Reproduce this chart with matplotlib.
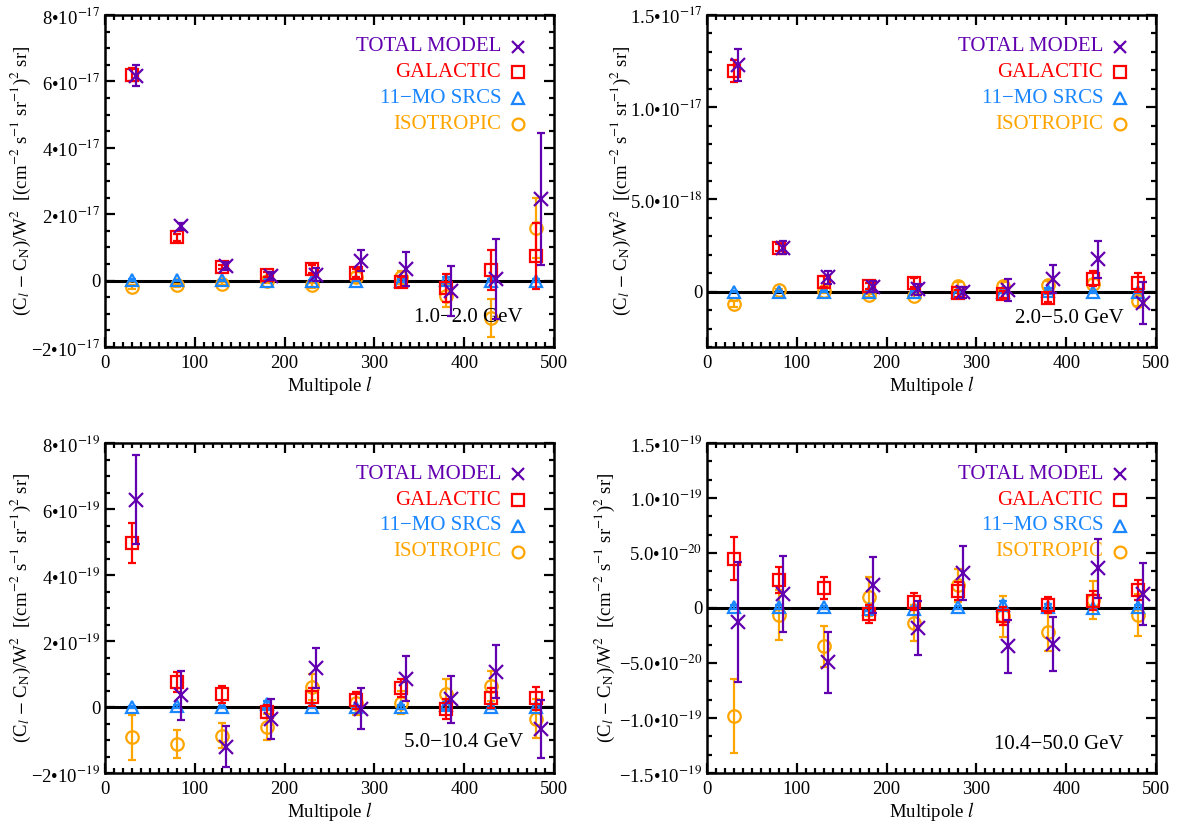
import matplotlib
matplotlib.use("Agg")
import matplotlib.pyplot as plt
from matplotlib.ticker import FixedLocator, MultipleLocator

plt.rcParams['font.family'] = ['Liberation Serif', 'DejaVu Serif']
plt.rcParams['mathtext.fontset'] = 'stix'

# multipole centres (components) and shifted centres (total model)
ELL_COMP = [30, 80, 130, 180, 230, 280, 330, 380, 430, 480]
ELL_TOTAL = [35, 85, 135, 185, 235, 285, 335, 385, 435, 485]

# 1.0-2.0 GeV, units of 1e-17
P1_TOTAL = [6.17, 1.63, 0.45, 0.15, 0.18, 0.60, 0.35, -0.32, 0.05, 2.46]
P1_TOTAL_ERR = [0.32, 0.12, 0.12, 0.12, 0.20, 0.32, 0.50, 0.75, 1.20, 2.00]
P1_GAL = [6.20, 1.30, 0.40, 0.18, 0.35, 0.23, -0.05, -0.22, 0.31, 0.75]
P1_GAL_ERR = [0.20, 0.10, 0.06, 0.08, 0.12, 0.12, 0.15, 0.42, 0.60, 1.00]
P1_SRC = [0.02, 0.01, 0.01, 0.0, 0.0, 0.0, 0.0, 0.02, 0.0, 0.0]
P1_SRC_ERR = [0.02, 0.02, 0.02, 0.02, 0.02, 0.02, 0.05, 0.10, 0.05, 0.05]
P1_ISO = [-0.19, -0.14, -0.09, 0.0, -0.14, 0.10, 0.10, -0.45, -1.12, 1.58]
P1_ISO_ERR = [0.05, 0.05, 0.05, 0.08, 0.08, 0.15, 0.20, 0.35, 0.57, 0.90]

# 2.0-5.0 GeV, units of 1e-18
P2_TOTAL = [12.29, 2.38, 0.79, 0.27, 0.13, -0.02, 0.09, 0.70, 1.75, -0.60]
P2_TOTAL_ERR = [0.88, 0.35, 0.35, 0.30, 0.30, 0.30, 0.60, 0.75, 1.00, 1.15]
P2_GAL = [11.98, 2.38, 0.54, 0.30, 0.49, -0.09, -0.14, -0.32, 0.70, 0.49]
P2_GAL_ERR = [0.60, 0.20, 0.30, 0.15, 0.25, 0.20, 0.20, 0.25, 0.40, 0.50]
P2_SRC = [0.0, 0.0, 0.0, 0.0, 0.0, 0.0, 0.0, 0.05, 0.0, 0.0]
P2_SRC_ERR = [0.02, 0.02, 0.02, 0.02, 0.02, 0.02, 0.05, 0.15, 0.05, 0.05]
P2_ISO = [-0.68, 0.09, 0.04, -0.20, -0.23, 0.30, 0.30, 0.34, 0.40, -0.50]
P2_ISO_ERR = [0.15, 0.08, 0.10, 0.10, 0.12, 0.20, 0.20, 0.25, 0.30, 0.30]

# 5.0-10.4 GeV, units of 1e-19
P3_TOTAL = [6.28, 0.35, -1.20, -0.37, 1.19, -0.05, 0.86, 0.23, 1.07, -0.67]
P3_TOTAL_ERR = [1.35, 0.74, 0.62, 0.60, 0.60, 0.63, 0.68, 0.72, 0.80, 0.87]
P3_GAL = [4.97, 0.75, 0.38, -0.14, 0.30, 0.20, 0.58, -0.05, 0.28, 0.26]
P3_GAL_ERR = [0.60, 0.30, 0.25, 0.20, 0.28, 0.25, 0.28, 0.30, 0.30, 0.35]
P3_SRC = [0.0, 0.02, 0.0, 0.08, 0.0, 0.0, 0.0, 0.05, 0.0, 0.0]
P3_SRC_ERR = [0.02, 0.05, 0.02, 0.10, 0.02, 0.02, 0.05, 0.10, 0.05, 0.05]
P3_ISO = [-0.92, -1.13, -0.87, -0.60, 0.61, 0.11, 0.13, 0.40, 0.63, -0.35]
P3_ISO_ERR = [0.68, 0.43, 0.38, 0.40, 0.40, 0.35, 0.35, 0.45, 0.45, 0.60]

# 10.4-50.0 GeV, units of 1e-20
P4_TOTAL = [-1.31, 1.28, -4.92, 2.09, -1.82, 3.15, -3.48, -3.27, 3.60, 1.25]
P4_TOTAL_ERR = [5.45, 3.48, 2.78, 2.56, 2.46, 2.45, 2.41, 2.47, 2.67, 2.80]
P4_GAL = [4.50, 2.55, 1.85, -0.56, 0.59, 1.55, -0.71, 0.29, 0.68, 1.64]
P4_GAL_ERR = [1.96, 1.16, 1.00, 0.84, 0.75, 0.83, 0.80, 0.75, 0.90, 0.90]
P4_SRC = [0.1, 0.1, 0.05, -0.1, -0.05, 0.05, 0.3, 0.1, 0.0, 0.1]
P4_SRC_ERR = [0.15, 0.15, 0.1, 0.2, 0.1, 0.1, 0.3, 0.3, 0.1, 0.2]
P4_ISO = [-9.80, -0.62, -3.48, 1.04, -1.37, 2.09, -0.77, -2.19, 0.74, -0.62]
P4_ISO_ERR = [3.34, 2.30, 1.87, 1.80, 1.60, 1.50, 1.90, 1.73, 1.75, 1.90]

P1_YTICKS = [-2, 0, 2, 4, 6, 8]
P1_YLABELS = ['\u22122\u202210$^{-17}$', '0', '2\u202210$^{-17}$', '4\u202210$^{-17}$',
              '6\u202210$^{-17}$', '8\u202210$^{-17}$']
P2_YTICKS = [0, 5, 10, 15]
P2_YLABELS = ['0', '5.0\u202210$^{-18}$', '1.0\u202210$^{-17}$', '1.5\u202210$^{-17}$']
P3_YTICKS = [-2, 0, 2, 4, 6, 8]
P3_YLABELS = ['\u22122\u202210$^{-19}$', '0', '2\u202210$^{-19}$', '4\u202210$^{-19}$',
              '6\u202210$^{-19}$', '8\u202210$^{-19}$']
P4_YTICKS = [-15, -10, -5, 0, 5, 10, 15]
P4_YLABELS = ['\u22121.5\u202210$^{-19}$', '\u22121.0\u202210$^{-19}$', '\u22125.0\u202210$^{-20}$',
              '0', '5.0\u202210$^{-20}$', '1.0\u202210$^{-19}$', '1.5\u202210$^{-19}$']

ENERGY_LABELS = ['1.0\u22122.0 GeV', '2.0\u22125.0 GeV', '5.0\u221210.4 GeV', '10.4\u221250.0 GeV']
SERIES_NAMES = ['TOTAL MODEL', 'GALACTIC', '11\u2212MO SRCS', 'ISOTROPIC']

C_TOT = '#6200b0'
C_GAL = '#ff0000'
C_SRC = '#1a86ff'
C_ISO = '#ffa500'
STYLES = [(C_TOT, 'x', 9), (C_GAL, 's', 9), (C_SRC, '^', 9), (C_ISO, 'o', 8.5)]

W, H = 1177, 821
fig = plt.figure(figsize=(W / 100, H / 100), dpi=100)

def rect(l, t, r, b):
    return [l / W, 1 - b / H, (r - l) / W, (b - t) / H]

panels = [
    (rect(105, 15, 554, 347), 1e-17, (-2, 8), 0.5, P1_YTICKS, P1_YLABELS,
     (P1_TOTAL, P1_TOTAL_ERR, P1_GAL, P1_GAL_ERR, P1_SRC, P1_SRC_ERR, P1_ISO, P1_ISO_ERR), -0.16, (0.931, 0.09)),
    (rect(707, 15, 1156, 347), 1e-18, (-3, 15), 1.0, P2_YTICKS, P2_YLABELS,
     (P2_TOTAL, P2_TOTAL_ERR, P2_GAL, P2_GAL_ERR, P2_SRC, P2_SRC_ERR, P2_ISO, P2_ISO_ERR), -0.165, (0.929, 0.087)),
    (rect(105, 443, 554, 773), 1e-19, (-2, 8), 0.5, P3_YTICKS, P3_YLABELS,
     (P3_TOTAL, P3_TOTAL_ERR, P3_GAL, P3_GAL_ERR, P3_SRC, P3_SRC_ERR, P3_ISO, P3_ISO_ERR), -0.16, (0.931, 0.092)),
    (rect(707, 443, 1156, 773), 1e-20, (-15, 15), 5 / 3, P4_YTICKS, P4_YLABELS,
     (P4_TOTAL, P4_TOTAL_ERR, P4_GAL, P4_GAL_ERR, P4_SRC, P4_SRC_ERR, P4_ISO, P4_ISO_ERR), -0.2, (0.929, 0.087)),
]

for i, (pos, sc, ylim, minor, yt, ylabs, data, ylab_x, elab) in enumerate(panels):
    ax = fig.add_axes(pos)
    tot, tot_e, gal, gal_e, src, src_e, iso, iso_e = [[v * sc for v in d] for d in data]

    ax.axhline(0, color='black', lw=2.2, zorder=1)
    eb = dict(ls='none', capsize=3, elinewidth=1.6, capthick=1.6, mfc='none', mew=1.6)
    ax.errorbar(ELL_COMP, iso, yerr=iso_e, color=C_ISO, marker='o', ms=9, zorder=2, **eb)
    ax.errorbar(ELL_COMP, src, yerr=src_e, color=C_SRC, marker='^', ms=9, zorder=3, **eb)
    ax.errorbar(ELL_COMP, gal, yerr=gal_e, color=C_GAL, marker='s', ms=9, zorder=4, **eb)
    ax.errorbar(ELL_TOTAL, tot, yerr=tot_e, color=C_TOT, marker='x', ms=9.5, zorder=5, **eb)

    ax.set_xlim(0, 500)
    ax.set_ylim(ylim[0] * sc, ylim[1] * sc)
    ax.xaxis.set_major_locator(MultipleLocator(100))
    ax.xaxis.set_minor_locator(MultipleLocator(10))
    ax.yaxis.set_major_locator(FixedLocator([v * sc for v in yt]))
    ax.set_yticklabels(ylabs)
    ax.yaxis.set_minor_locator(MultipleLocator(minor * sc))
    ax.tick_params(which='both', direction='in', top=True, right=True, labelsize=13.5, width=1.6)
    ax.tick_params(which='major', length=7)
    ax.tick_params(which='minor', length=3.5)
    ax.tick_params(axis='x', pad=6)
    for s in ax.spines.values():
        s.set_linewidth(1.8)

    ax.set_xlabel('Multipole $l$', fontsize=13.5, labelpad=1)
    ax.set_ylabel('(C$_{l}$ $-$ C$_{\\rm N}$)/W$^2$  [(cm$^{-2}$ s$^{-1}$ sr$^{-1}$)$^2$ sr]', fontsize=13.5)
    ax.yaxis.set_label_coords(ylab_x, 0.5)

    # legend: coloured names with their symbols
    for k, (name, (c, m, ms)) in enumerate(zip(SERIES_NAMES, STYLES)):
        yy = 0.905 - k * 0.078
        ax.text(0.882, yy, name, color=c, fontsize=15, ha='right', va='center', transform=ax.transAxes)
        ax.plot([0.919], [yy], marker=m, ms=ms, mfc='none', mec=c, mew=1.6, ls='none',
                transform=ax.transAxes, clip_on=False)

    ax.text(elab[0], elab[1], ENERGY_LABELS[i], fontsize=15, ha='right', va='center', transform=ax.transAxes)

fig.savefig('out.png', dpi=100)
